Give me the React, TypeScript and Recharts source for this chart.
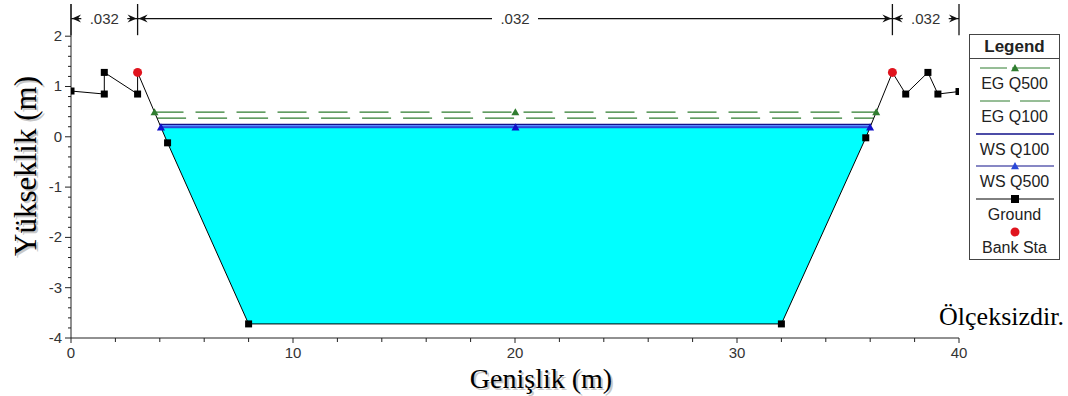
import React from "react"
import { ComposedChart, Line, Area, Scatter, XAxis, YAxis, ReferenceLine } from "recharts"

// ground profile (station m, elevation m)
const stations = [0, 1.5, 1.5, 3, 3, 4.35, 8, 32, 35.8, 37, 37.6, 38.6, 39.05, 40]
const elevations = [0.91, 0.85, 1.28, 0.85, 1.28, -0.12, -3.72, -3.72, -0.02, 1.28, 0.85, 1.28, 0.85, 0.9]
const bankStations = [3, 37]
const bankElevations = [1.28, 1.28]

// profiles
const egQ500 = 0.49
const egQ100 = 0.37
const wsQ100 = 0.245
const wsQ500 = 0.19

// manning n
const nBreaks = [0, 3, 37, 40]
const nValues = [".032", ".032", ".032"]
const nLineY = 2.35

const xMajor = [0, 10, 20, 30, 40]
const yMajor = [-4, -3, -2, -1, 0, 1, 2]
const yTop = 2.64

const legendNames = ["EG Q500", "EG Q100", "WS Q100", "WS Q500", "Ground", "Bank Sta"]

const GREEN = "#2f7d2f"
const NAVY = "#10108a"
const BLUE = "#2a48d8"
const SANS = "'Liberation Sans', Arial, sans-serif"
const SERIF = "'Liberation Serif', 'Times New Roman', serif"

const xTicks: number[] = []
for (let v = xMajor[0]; v <= xMajor[xMajor.length - 1]; v += 2) xTicks.push(v)
const yTicks: number[] = []
for (let i = 0; i <= (yMajor[yMajor.length - 1] - yMajor[0]) * 5; i++) yTicks.push(Math.round((yMajor[0] + i * 0.2) * 10) / 10)

function crossings(h: number) {
  let left: number | null = null
  let right: number | null = null
  for (let i = 0; i < stations.length - 1; i++) {
    const y1 = elevations[i]
    const y2 = elevations[i + 1]
    if (y1 === y2 || (y1 - h) * (y2 - h) > 0) continue
    const x = stations[i] + ((h - y1) * (stations[i + 1] - stations[i])) / (y2 - y1)
    if (left === null && y1 > y2) left = x
    if (y2 > y1) right = x
  }
  return [left as number, right as number]
}

function levelLine(h: number) {
  const [l, r] = crossings(h)
  return [
    { x: l, y: h },
    { x: (l + r) / 2, y: h },
    { x: r, y: h },
  ]
}

function pool(h: number) {
  const [l, r] = crossings(h)
  const pts = [{ x: l, range: [h, h] }]
  stations.forEach((s, i) => {
    if (s > l && s < r) pts.push({ x: s, range: [elevations[i], h] })
  })
  pts.push({ x: r, range: [h, h] })
  return pts
}

function band(lo: number, hi: number) {
  const [l1, r1] = crossings(hi)
  const [l0, r0] = crossings(lo)
  return [
    { x: l1, range: [hi, hi] },
    { x: l0, range: [lo, hi] },
    { x: r0, range: [lo, hi] },
    { x: r1, range: [hi, hi] },
  ]
}

const groundData = stations.map((x, i) => ({ x, y: elevations[i] }))
const bankData = bankStations.map((x, i) => ({ x, y: bankElevations[i] }))
const arrowData = nBreaks.flatMap((b, i) => {
  const pts: { x: number; y: number; dir: string }[] = []
  if (i > 0) pts.push({ x: b, y: nLineY, dir: "r" })
  if (i < nBreaks.length - 1) pts.push({ x: b, y: nLineY, dir: "l" })
  return pts
})

function triangle(cx: number, cy: number, s: number) {
  return `M${cx},${cy - s} L${cx + s},${cy + s * 0.8} L${cx - s},${cy + s * 0.8} Z`
}

function XTick(props: any) {
  const { x, y, payload } = props
  const major = payload.value % 10 === 0
  return (
    <g>
      <line x1={x} x2={x} y1={y} y2={y + (major ? 5 : 4)} stroke="#222" />
      {major && (
        <text x={x} y={y + 20} textAnchor="middle" fontSize={15} fill="#333" fontFamily={SANS}>
          {payload.value}
        </text>
      )}
    </g>
  )
}

function YTick(props: any) {
  const { x, y, payload } = props
  const major = Number.isInteger(payload.value)
  return (
    <g>
      <line x1={x - (major ? 6 : 3)} x2={x} y1={y} y2={y} stroke="#222" />
      {major && (
        <text x={x - 9} y={y + 5} textAnchor="end" fontSize={15} fill="#333" fontFamily={SANS}>
          {payload.value}
        </text>
      )}
    </g>
  )
}

function NLabel(props: any) {
  const { viewBox, text } = props
  const cx = viewBox.x + viewBox.width / 2
  const cy = viewBox.y
  const w = Math.min(viewBox.width - 20, 46)
  return (
    <g>
      <rect x={cx - w / 2} y={cy - 9} width={w} height={18} fill="#fff" />
      <text x={cx} y={cy + 5} textAnchor="middle" fontSize={15} fill="#333" fontFamily={SANS}>
        {text}
      </text>
    </g>
  )
}

function Arrow(props: any) {
  const { cx, cy, payload } = props
  const d = payload.dir === "r" ? -1 : 1
  const t = cx + d * 1
  return (
    <path
      d={`M${t},${cy} L${t + d * 9},${cy - 4} L${t + d * 6},${cy} L${t + d * 9},${cy + 4} Z`}
      fill="#111"
    />
  )
}

function ShadowText(props: any) {
  const { x, y, size, rotate, children } = props
  const tr = rotate ? `rotate(-90 ${x} ${y})` : undefined
  return (
    <g>
      <text x={x + 2} y={y + 2} transform={rotate ? `rotate(-90 ${x + 2} ${y + 2})` : undefined} textAnchor="middle" fontSize={size} fill="#c8c8c8" fontFamily={SERIF}>
        {children}
      </text>
      <text x={x} y={y} transform={tr} textAnchor="middle" fontSize={size} fill="#000" fontFamily={SERIF}>
        {children}
      </text>
    </g>
  )
}

function XTitle() {
  return (
    <g>
      <ShadowText x={541} y={388} size={28}>Genişlik (m)</ShadowText>
      <text x={1064} y={325} textAnchor="end" fontSize={26} fill="#000" fontFamily={SERIF}>
        Ölçeksizdir.
      </text>
    </g>
  )
}

function YTitle() {
  return (
    <ShadowText x={36} y={166} size={31} rotate>
      Yükseklik (m)
    </ShadowText>
  )
}

function LegendSample({ name }: { name: string }) {
  const w = 78
  const m = w / 2
  if (name === "EG Q500")
    return (
      <svg width={w} height={10}>
        <line x1={4} x2={m - 8} y1={5} y2={5} stroke={GREEN} />
        <line x1={m - 3} x2={w - 4} y1={5} y2={5} stroke={GREEN} />
        <path d={triangle(m, 5, 4)} fill={GREEN} />
      </svg>
    )
  if (name === "EG Q100")
    return (
      <svg width={w} height={10}>
        <line x1={4} x2={w - 4} y1={5} y2={5} stroke={GREEN} strokeDasharray="30 10" />
      </svg>
    )
  if (name === "WS Q100")
    return (
      <svg width={w} height={10}>
        <line x1={0} x2={w} y1={5} y2={5} stroke={NAVY} strokeWidth={1.5} />
      </svg>
    )
  if (name === "WS Q500")
    return (
      <svg width={w} height={10}>
        <line x1={0} x2={w} y1={5} y2={5} stroke={NAVY} strokeWidth={1.2} />
        <path d={triangle(m, 5, 4)} fill={BLUE} />
      </svg>
    )
  if (name === "Ground")
    return (
      <svg width={w} height={10}>
        <line x1={0} x2={w} y1={5} y2={5} stroke="#000" />
        <rect x={m - 4} y={1} width={8} height={8} fill="#000" />
      </svg>
    )
  return (
    <svg width={w} height={10}>
      <circle cx={m} cy={5} r={4.5} fill="#e0141e" />
    </svg>
  )
}

function ChartLegend() {
  return (
    <div
      style={{
        position: "absolute",
        left: 969,
        top: 34,
        width: 91,
        height: 226,
        border: "1px solid #444",
        background: "#fff",
        fontFamily: SANS,
        color: "#222",
        boxSizing: "border-box",
      }}
    >
      <div style={{ height: 23, borderBottom: "1px solid #444", textAlign: "center", fontWeight: "bold", fontSize: 17, lineHeight: "23px" }}>
        Legend
      </div>
      {legendNames.map((n, i) => (
        <div key={n} style={{ position: "absolute", left: 0, top: 28 + i * 32.8, width: 89, textAlign: "center" }}>
          <div style={{ height: 10, display: "flex", justifyContent: "center" }}>
            <LegendSample name={n} />
          </div>
          <div style={{ fontSize: 16, lineHeight: "22px", whiteSpace: "nowrap" }}>{n}</div>
        </div>
      ))}
    </div>
  )
}

export default function App() {
  return (
    <div style={{ position: "absolute", left: 0, top: 0, width: 1068, height: 396, background: "#fff" }}>
      <ComposedChart width={1068} height={396} margin={{ top: 4, right: 109, bottom: 0, left: 0 }}>
        <XAxis
          type="number"
          dataKey="x"
          domain={[0, 40]}
          ticks={xTicks}
          interval={0}
          allowDataOverflow
          height={58}
          tickSize={0}
          tickMargin={0}
          tickLine={false}
          tick={<XTick />}
          axisLine={{ stroke: "#222" }}
          label={<XTitle />}
        />
        <YAxis
          type="number"
          dataKey="y"
          domain={[-4, yTop]}
          ticks={yTicks}
          interval={0}
          allowDataOverflow
          width={71}
          tickSize={0}
          tickMargin={0}
          tickLine={false}
          tick={<YTick />}
          axisLine={{ stroke: "#222" }}
          label={<YTitle />}
        />
        <Area data={pool(wsQ500)} dataKey="range" type="linear" fill="#00ffff" fillOpacity={1} stroke="none" isAnimationActive={false} />
        <Area data={band(wsQ500, wsQ100)} dataKey="range" type="linear" fill="#5a90ff" fillOpacity={1} stroke="none" isAnimationActive={false} />
        <Line data={levelLine(egQ100)} dataKey="y" type="linear" stroke={GREEN} strokeWidth={1.3} strokeDasharray="29 12" dot={false} isAnimationActive={false} />
        <Line
          data={levelLine(egQ500)}
          dataKey="y"
          type="linear"
          stroke={GREEN}
          strokeWidth={1.3}
          strokeDasharray="29 12"
          dot={(p: any) => <path key={`eg${p.index}`} d={triangle(p.cx, p.cy, 4)} fill={GREEN} />}
          isAnimationActive={false}
        />
        <Line data={levelLine(wsQ100)} dataKey="y" type="linear" stroke={NAVY} strokeWidth={1.3} dot={false} isAnimationActive={false} />
        <Line
          data={levelLine(wsQ500)}
          dataKey="y"
          type="linear"
          stroke={BLUE}
          strokeWidth={2}
          dot={(p: any) => <path key={`ws${p.index}`} d={triangle(p.cx, p.cy, 4)} fill="#1010c8" />}
          isAnimationActive={false}
        />
        <Line
          data={groundData}
          dataKey="y"
          type="linear"
          stroke="#000"
          strokeWidth={1}
          dot={(p: any) =>
            bankStations.includes(p.payload.x) && bankElevations.includes(p.payload.y) ? (
              <g key={`g${p.index}`} />
            ) : (
              <rect key={`g${p.index}`} x={p.cx - 3.5} y={p.cy - 3.5} width={7} height={7} fill="#000" />
            )
          }
          isAnimationActive={false}
        />
        <Scatter
          data={bankData}
          dataKey="y"
          shape={(p: any) => <circle cx={p.cx} cy={p.cy} r={4.5} fill="#e0141e" />}
          isAnimationActive={false}
        />
        {nBreaks.map((b) => (
          <ReferenceLine key={`nb${b}`} segment={[{ x: b, y: 2.02 }, { x: b, y: yTop }]} stroke="#111" strokeWidth={1.3} ifOverflow="visible" />
        ))}
        {nValues.map((n, i) => (
          <ReferenceLine
            key={`nv${i}`}
            segment={[{ x: nBreaks[i], y: nLineY }, { x: nBreaks[i + 1], y: nLineY }]}
            stroke="#111"
            strokeWidth={1.3}
            ifOverflow="visible"
            label={(p: any) => <NLabel viewBox={p.viewBox} text={n} />}
          />
        ))}
        <Scatter data={arrowData} dataKey="y" shape={(p: any) => <Arrow {...p} />} isAnimationActive={false} />
      </ComposedChart>
      <ChartLegend />
    </div>
  )
}
